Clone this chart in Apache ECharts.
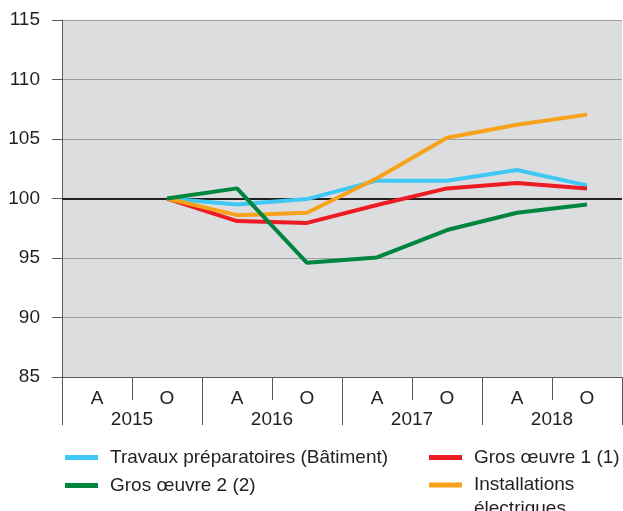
<!DOCTYPE html>
<html>
<head>
<meta charset="utf-8">
<script src="https://cdn.jsdelivr.net/npm/echarts@6/dist/echarts.min.js"></script>
<style>
html,body{margin:0;padding:0;background:#fff;}
#main{width:623px;height:511px;}
</style>
</head>
<body>
<div id="main"></div>
<script>
var periodes=['A','O','A','O','A','O','A','O'];
var annees=['2015','2016','2017','2018'];
var travaux=[null,100,99.5,99.95,101.5,101.5,102.4,101.1];
var grosOeuvre1=[null,100,98.1,97.95,99.45,100.85,101.3,100.85];
var grosOeuvre2=[null,100,100.85,94.6,95.05,97.35,98.8,99.5];
var installations=[null,100,98.6,98.8,101.7,105.1,106.2,107.05];

var police='"Liberation Sans", Arial, sans-serif';
var texte='#231f20';
var gris='#58595b';

// une légende par série pour placer chaque entrée comme dans la figure
function legende(nom,gauche,haut,extra){
    return {
        left:gauche, top:haut, padding:0,
        icon:'rect', itemWidth:33, itemHeight:5,
        textStyle:Object.assign({fontSize:19, color:texte, padding:[0,0,0,7]},extra||{}),
        formatter:function(name){
            // ligne vide au-dessus pour que le trait reste en face de la 1re ligne
            return name=='Installations électriques' ? '\u00a0\nInstallations\nélectriques' : name;
        },
        data:[nom]
    };
}

var Mychart=echarts.init(document.getElementById('main'));
var option={
    animation:false,
    textStyle:{fontFamily:police},
    grid:{
        left:62, right:1, top:20, bottom:134,
        show:true, backgroundColor:'#dcdddf', borderWidth:0
    },
    legend:[
        legende('Travaux préparatoires (Bâtiment)',65,448),
        legende('Gros œuvre 2 (2)',65,476),
        legende('Gros œuvre 1 (1)',429,448),
        legende('Installations électriques',429,449,{lineHeight:24})
    ],
    xAxis:[{
        type:'category',
        data:periodes,
        boundaryGap:true,
        axisLine:{show:true, lineStyle:{color:gris, width:1}},
        axisTick:{show:true, interval:0, length:23, lineStyle:{color:gris}},
        axisLabel:{interval:0, margin:12, fontSize:19, color:texte}
    },{
        type:'category',
        data:annees,
        position:'bottom',
        boundaryGap:true,
        axisLine:{show:false},
        axisTick:{show:true, interval:0, length:48, lineStyle:{color:gris}},
        axisLabel:{interval:0, margin:33, fontSize:19, color:texte}
    }],
    yAxis:{
        type:'value',
        min:85, max:115, interval:5,
        axisLine:{show:true, lineStyle:{color:gris}},
        axisTick:{show:true, length:10, lineStyle:{color:gris}},
        axisLabel:{margin:22, fontSize:19, color:texte},
        splitLine:{lineStyle:{color:'#9d9fa2', width:1}}
    },
    series:[{
        name:'Travaux préparatoires (Bâtiment)',
        type:'line', data:travaux, symbol:'none',
        lineStyle:{width:4, color:'#3fc8f4'}, itemStyle:{color:'#3fc8f4'},
        z:3,
        markLine:{
            silent:true, symbol:'none', z:1,
            label:{show:false},
            lineStyle:{color:'#231f20', width:2, type:'solid'},
            data:[{yAxis:100}]
        }
    },{
        name:'Gros œuvre 1 (1)',
        type:'line', data:grosOeuvre1, symbol:'none',
        lineStyle:{width:4, color:'#ed1c24'}, itemStyle:{color:'#ed1c24'},
        z:3
    },{
        name:'Installations électriques',
        type:'line', data:installations, symbol:'none',
        lineStyle:{width:4, color:'#f8a21c'}, itemStyle:{color:'#f8a21c'},
        z:4
    },{
        name:'Gros œuvre 2 (2)',
        type:'line', data:grosOeuvre2, symbol:'none',
        lineStyle:{width:4, color:'#00853f'}, itemStyle:{color:'#00853f'},
        z:5
    }]
};
Mychart.setOption(option);
</script>
</body>
</html>
